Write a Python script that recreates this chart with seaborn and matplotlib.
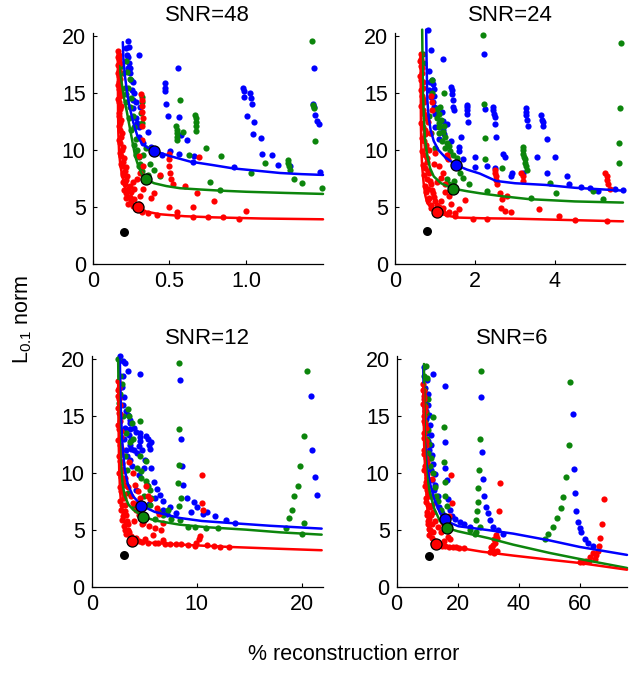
import numpy as np
import matplotlib
matplotlib.use("Agg")
import matplotlib.pyplot as plt
import seaborn as sns

sns.set_style("white")
plt.rcParams['font.family'] = ['Liberation Sans', 'DejaVu Sans']
plt.rcParams['mathtext.fontset'] = 'custom'
plt.rcParams['mathtext.rm'] = 'Liberation Sans'
plt.rcParams['mathtext.it'] = 'Liberation Sans'
plt.rcParams['text.color'] = 'black'
plt.rcParams['xtick.color'] = 'black'
plt.rcParams['ytick.color'] = 'black'
plt.rcParams['axes.labelcolor'] = 'black'

BLUE = '#0000ff'
GREEN = '#0c850c'
RED = '#ff0000'
FS = 15.5

titles = ["SNR=48", "SNR=24", "SNR=12", "SNR=6"]
xlims = [1.5, 5.75, 22, 75.5]
xticks = [[0, 0.5, 1.0], [0, 2, 4], [0, 10, 20], [0, 20, 40, 60]]
xticklabels = [["0", "0.5", "1.0"], ["0", "2", "4"], ["0", "10", "20"], ["0", "20", "40", "60"]]
yticks = [0, 5, 10, 15, 20]

# ---- SNR=48 ----
tl_blue = [(0.233,19.6),(0.239,19.1),(0.233,18.2),(0.239,17.7),(0.243,17.2),(0.243,16.8),(0.248,16.2),(0.254,15.3),
           (0.261,14.4),(0.265,13.7),(0.304,18.4),(0.291,12.4),(0.363,11.6),(0.309,13.8),(0.28,12.8),(0.3,11.2),(0.33,10.6),
           (0.472,15.9),(0.472,15.5),(0.472,15.2),(0.478,14.1),(0.493,13.0),(0.554,17.2),(0.563,12.9),(0.574,11.3),
           (0.617,10.9),(0.563,9.7),(0.657,9.5),(0.504,9.9),(0.45,9.6),(0.978,15.5),(0.983,15.2),(0.987,14.7),(1.026,15.0),
           (1.03,14.6),(1.037,14.1),(1.004,13.0),(1.048,12.5),(1.043,11.4),(1.098,11.1),(1.102,9.7),(1.167,9.6),(1.204,8.7),
           (1.287,8.6),(0.92,8.5),(0.65,9.0),(1.443,17.2),(1.433,14.1),(1.439,13.8),(1.45,13.1),(1.461,12.6),(1.472,12.3),(1.483,8.1),
           (0.22,19.0),(0.225,18.4),(0.23,17.2),(0.26,16.0),(0.27,15.0),(0.28,14.2),(0.3,12.0),(0.38,10.3)]
tl_green = [(0.18,17.3),(0.217,17.8),(0.222,16.9),(0.243,16.3),(0.23,15.5),(0.25,14.6),(0.24,13.8),(0.26,13.0),(0.27,12.0),
            (0.28,11.0),(0.29,10.0),(0.3,9.4),(0.31,8.8),(0.32,8.2),(0.36,7.8),(0.435,7.7),(0.32,14.7),(0.318,14.2),(0.313,13.3),
            (0.32,12.4),(0.35,10.2),(0.3,8.6),(0.57,14.4),(0.543,12.1),(0.548,11.8),(0.55,11.5),(0.552,11.2),(0.55,10.9),
            (0.624,9.6),(0.59,11.6),(0.667,13.1),(0.672,12.8),(0.674,12.5),(0.674,12.1),(0.674,11.7),(0.739,10.2),(0.835,9.5),
            (1.124,8.9),(1.03,8.0),(1.27,9.15),(1.275,8.9),(1.28,8.6),(1.285,8.3),(1.309,7.5),(1.363,7.1),(1.428,19.6),
            (1.437,14.0),(1.439,13.7),(1.45,10.8),(1.493,6.7),(0.761,7.2),(0.83,6.5),
            (0.2,16.8),(0.21,15.5),(0.215,14.9),(0.22,14.2),(0.235,12.8),(0.25,11.8),(0.27,10.5),(0.28,9.6),(0.4,8.3),
            (0.33,9.6),(0.37,8.8)]
tl_red = [(0.165,18.7),(0.168,18.4),(0.17,18.0),(0.165,17.5),(0.17,17.0),(0.168,16.5),(0.172,16.0),(0.17,15.4),(0.175,14.8),
          (0.17,14.2),(0.178,13.6),(0.172,13.0),(0.18,12.4),(0.175,11.8),(0.182,11.2),(0.178,10.6),(0.19,10.0),(0.185,9.5),
          (0.2,9.0),(0.19,8.6),(0.21,8.2),(0.2,7.8),(0.22,7.4),(0.21,7.0),(0.23,6.6),(0.215,6.2),(0.24,5.9),(0.25,5.5),
          (0.23,5.3),(0.26,5.1),(0.28,4.8),(0.32,4.6),(0.36,4.45),(0.42,4.35),(0.55,4.2),(0.65,4.15),(0.75,4.1),(0.95,4.0),
          (0.315,14.9),(0.32,14.4),(0.32,13.9),(0.322,13.4),(0.325,12.8),(0.324,12.1),(0.318,10.9),(0.3,9.5),(0.33,8.6),
          (0.31,8.0),(0.35,7.3),(0.33,6.6),(0.4,6.2),(0.38,5.8),(0.5,9.7),(0.5,9.2),(0.5,8.6),(0.505,8.0),(0.51,7.5),
          (0.52,7.0),(0.6,6.9),(0.68,6.2),(0.69,9.4),(0.79,5.5),(0.5,5.0),(0.65,5.0),(1.0,4.7),(0.44,7.8),
          (0.162,18.2),(0.175,17.7),(0.163,16.8),(0.176,16.3),(0.165,15.7),(0.18,15.1),(0.166,14.5),(0.182,13.9),
          (0.168,13.3),(0.185,12.7),(0.17,12.1),(0.19,11.5),(0.172,10.9),(0.195,10.3),(0.18,9.8),(0.205,9.3),(0.185,8.8),
          (0.215,8.5),(0.195,8.0),(0.225,7.7),(0.2,7.2),(0.24,6.9),(0.205,6.5),(0.25,6.3),(0.22,5.8),(0.27,5.7),(0.3,5.3),
          (0.31,6.0),(0.27,6.6),(0.26,7.2),(0.29,7.5),(0.55,4.6),(0.85,4.1)]
tl_blue_curve = [(0.196,19.5),(0.2,18.0),(0.21,16.5),(0.225,15.0),(0.24,13.8),(0.265,12.4),(0.29,11.3),(0.32,10.6),
                 (0.36,10.2),(0.396,9.97),(0.5,9.5),(0.635,9.0),(0.78,8.7),(0.917,8.4),(1.07,8.2),(1.22,8.0),(1.36,7.9),(1.5,7.83)]
tl_green_curve = [(0.174,17.4),(0.19,15.8),(0.205,14.5),(0.222,13.4),(0.24,12.1),(0.258,10.8),(0.276,9.5),(0.3,8.5),
                  (0.32,7.9),(0.346,7.45),(0.4,7.1),(0.48,6.85),(0.57,6.66),(0.7,6.55),(0.83,6.45),(1.0,6.35),(1.25,6.25),(1.5,6.16)]
tl_red_curve = [(0.163,18.7),(0.164,16.0),(0.165,13.5),(0.167,11.5),(0.172,9.8),(0.18,8.7),(0.19,7.9),(0.205,7.0),
                (0.222,6.2),(0.243,5.6),(0.265,5.25),(0.293,5.0),(0.35,4.6),(0.44,4.37),(0.6,4.2),(0.79,4.1),(1.1,4.0),(1.5,3.93)]
tl_best = [(0.396,9.97),(0.346,7.45),(0.293,5.0)]
tl_true = (0.207,2.79)

# ---- SNR=24 ----
tr_blue = [(0.83,20.6),(0.91,18.8),(1.2,18.0),(0.93,16.2),(0.94,15.8),(0.97,15.4),(0.97,14.8),(0.97,13.8),(1.01,13.2),
           (1.18,13.4),(1.22,11.4),(1.4,15.6),(1.42,15.3),(1.42,14.9),(1.45,14.4),(1.46,13.8),(1.48,13.5),(1.59,10.3),
           (1.6,9.9),(1.81,14.0),(1.81,13.8),(1.81,13.5),(1.81,13.2),(1.82,12.5),(2.01,9.4),(2.22,18.5),(2.25,13.6),
           (2.45,13.8),(2.45,13.5),(2.47,13.2),(2.49,12.9),(2.49,12.3),(2.53,11.2),(2.7,9.7),(2.74,9.4),(2.93,8.0),
           (3.28,13.7),(3.28,13.4),(3.28,13.1),(3.3,12.7),(3.32,12.1),(3.56,9.4),(3.65,13.1),(3.68,12.7),(3.69,12.5),
           (3.71,12.1),(3.81,11.0),(3.81,8.0),(4.0,9.4),(4.31,7.7),(4.35,7.0),(4.66,6.8),(4.88,6.7),(5.08,6.4),(5.5,6.6),
           (5.7,6.5),(1.1,11.0),(1.0,12.0),(2.3,8.6),(3.2,8.0),(1.6,8.6),(0.85,17.0),(0.88,16.0),
           (0.86,15.3),(0.9,14.7),(0.95,14.2),(1.02,13.7),(1.2,12.6),(1.3,12.3),(1.2,11.8),(1.4,10.8),(1.65,11.2),
           (1.3,9.4),(1.7,9.2),(2.0,8.5),(2.5,8.4),(2.9,7.7)]
tr_green = [(0.72,17.7),(0.7,18.5),(0.93,16.2),(0.93,15.0),(1.22,15.0),(1.05,13.6),(1.1,13.2),(1.06,12.8),(1.09,12.4),
            (1.1,12.0),(1.09,11.5),(1.22,12.1),(1.18,10.8),(1.26,10.2),(1.38,9.9),(1.55,9.3),(1.63,8.0),(1.84,7.0),
            (2.21,20.1),(2.22,14.1),(2.25,11.1),(2.25,9.2),(2.68,8.4),(3.19,10.3),(3.2,10.0),(3.21,9.7),(3.22,9.4),
            (3.24,9.2),(3.25,8.9),(3.27,8.6),(3.29,8.3),(3.4,5.8),(3.87,7.1),(4.02,6.2),(4.96,6.4),(5.19,5.7),(5.6,8.9),
            (5.6,10.6),(5.62,13.7),(5.66,19.4),(0.85,13.0),(0.9,11.5),(1.0,10.2),(1.3,7.5),(2.3,6.4),
            (1.12,13.8),(1.15,12.7),(1.2,11.6),(1.25,11.2),(1.3,10.6),(1.35,10.4),(1.45,9.6),(1.6,8.5),(1.7,7.6),
            (1.35,7.0),(1.48,7.3)]
tr_red = [(0.64,18.5),(0.66,18.0),(0.65,17.4),(0.68,16.8),(0.66,16.2),(0.7,15.5),(0.68,14.8),(0.72,14.2),(0.7,13.5),
          (0.74,12.8),(0.7,12.0),(0.76,11.4),(0.72,10.8),(0.78,10.2),(0.74,9.6),(0.8,9.0),(0.76,8.4),(0.85,8.0),(0.8,7.5),
          (0.9,7.0),(0.82,6.6),(0.95,6.2),(0.86,5.8),(1.0,5.5),(0.9,5.2),(1.1,5.0),(1.2,4.6),(1.3,4.4),(1.5,4.2),
          (0.9,14.8),(0.92,14.2),(0.93,13.5),(1.0,9.8),(1.1,8.6),(1.15,7.6),(1.25,7.0),(1.3,9.6),(1.33,9.2),(1.35,6.0),
          (1.4,5.3),(1.05,4.6),(2.49,8.3),(2.5,8.0),(2.52,7.7),(2.52,7.4),(2.56,7.0),(2.62,6.2),(2.68,5.7),(2.66,4.9),
          (2.75,4.7),(3.15,8.0),(3.19,7.7),(3.21,7.3),(1.61,4.8),(1.75,5.6),(2.91,4.6),(3.6,4.8),(4.1,4.2),(4.51,3.9),
          (5.29,3.8),(2.29,4.0),(1.95,4.0),(5.25,8.0),(5.29,7.7),(5.31,7.4),(5.33,7.0),(5.38,6.6),(2.8,6.0),
          (0.63,17.8),(0.67,17.2),(0.63,16.5),(0.69,16.0),(0.64,15.3),(0.71,14.5),(0.65,13.9),(0.73,13.2),(0.66,12.4),
          (0.75,11.8),(0.67,11.1),(0.77,10.5),(0.68,9.9),(0.79,9.3),(0.7,8.7),(0.82,8.2),(0.72,7.8),(0.88,7.3),
          (0.75,6.9),(0.92,6.5),(0.78,6.3),(0.98,5.9),(0.82,5.6),(1.05,5.2),(0.9,4.9),(1.2,4.9),(1.35,4.6),(1.5,4.5),
          (1.15,5.5),(1.25,6.3),(1.05,7.2),(1.2,8.0),(0.98,8.8),(0.85,10.0),(0.88,11.5),(0.82,12.5)]
tr_blue_curve = [(0.78,20.6),(0.79,18.0),(0.8,16.0),(0.81,14.4),(0.84,13.0),(0.89,11.8),(0.97,10.8),(1.09,10.0),
                 (1.25,9.4),(1.53,8.7),(1.8,8.3),(2.12,7.95),(2.53,7.3),(3.0,7.1),(3.77,6.95),(4.5,6.7),(5.7,6.45)]
tr_green_curve = [(0.68,20.6),(0.69,17.5),(0.7,15.0),(0.72,13.0),(0.75,11.0),(0.81,9.44),(0.88,8.4),(0.97,7.7),
                  (1.15,7.1),(1.45,6.63),(1.8,6.4),(2.12,6.22),(2.7,5.95),(3.36,5.7),(4.5,5.5),(5.7,5.4)]
tr_red_curve = [(0.64,18.5),(0.645,15.0),(0.65,12.0),(0.66,10.0),(0.68,8.56),(0.72,7.0),(0.76,6.0),(0.81,5.34),
                (0.92,4.9),(1.05,4.57),(1.3,4.25),(1.59,4.08),(2.2,4.02),(2.95,3.99),(4.3,3.87),(5.7,3.75)]
tr_best = [(1.53,8.7),(1.45,6.63),(1.05,4.57)]
tr_true = (0.81,2.93)

# ---- SNR=12 ----
bl_blue = [(2.68,20.3),(2.99,19.9),(3.15,19.7),(3.47,19.0),(4.57,18.7),(8.42,18.2),(3.63,14.7),(3.3,15.5),(3.47,15.1),
           (3.63,14.4),(3.63,13.9),(3.56,13.4),(3.78,12.9),(3.63,12.5),(3.78,12.1),(3.63,11.2),(3.88,10.6),(4.57,13.5),
           (4.57,13.2),(4.64,12.8),(4.51,12.4),(5.2,13.3),(5.36,13.0),(5.46,12.5),(5.52,12.1),(5.68,12.7),(5.05,11.2),
           (5.68,10.5),(5.9,9.2),(6.47,8.1),(6.78,7.6),(8.52,13.0),(8.58,10.6),(8.74,9.0),(9.09,7.8),(9.78,7.5),(10.0,7.0),
           (10.6,6.4),(11.7,6.2),(12.8,5.9),(13.6,5.6),(20.9,16.8),(21.0,12.0),(21.3,9.7),(21.5,8.1),(8.04,6.5),(3.3,9.0),
           (4.2,8.5),(7.2,6.4),(5.5,7.3),(6.8,6.8),
           (3.0,18.5),(2.9,17.6),(3.1,16.7),(3.0,16.0),(3.2,14.0),(3.1,13.0),(3.3,12.0),(3.4,11.5),(4.0,14.0),(4.2,13.6),
           (4.0,12.0),(4.3,11.8),(4.8,12.0),(5.0,10.5),(4.5,9.8),(5.3,9.0),(6.2,8.6),(7.5,7.0),(6.0,7.8),(9.5,6.6),(11.0,6.6)]
bl_green = [(2.52,20.0),(2.68,18.5),(2.9,17.8),(3.47,15.6),(3.56,15.0),(3.63,12.7),(3.3,13.5),(3.2,11.5),(3.4,10.3),
            (3.3,9.0),(3.5,8.3),(4.57,14.6),(4.57,11.5),(4.73,9.6),(5.14,11.1),(5.2,9.3),(5.36,8.9),(5.52,8.5),(5.68,7.8),
            (6.31,6.7),(8.3,19.7),(8.3,13.9),(8.36,10.7),(8.2,9.1),(8.52,7.8),(8.36,7.1),(7.26,6.8),(9.15,5.3),(10.9,5.2),
            (18.8,6.1),(19.1,6.8),(19.3,8.0),(19.6,8.9),(19.8,10.6),(20.2,13.3),(20.5,19.0),(20.2,5.6),(20.0,4.7),
            (18.5,5.2),(4.0,7.0),(6.0,6.0),(2.6,16.2),
            (2.7,17.0),(3.0,15.0),(3.8,14.4),(3.9,13.0),(4.3,10.5),(4.7,10.2),(5.0,8.0),(5.6,7.2),(6.8,6.3),(7.6,6.0),
            (8.4,5.9),(9.8,5.3),(12.0,5.2)]
bl_red = [(2.52,18.1),(2.6,17.5),(2.55,16.8),(2.65,16.0),(2.58,15.3),(2.7,14.6),(2.62,13.9),(2.75,13.2),(2.65,12.5),
          (2.8,11.8),(2.68,11.1),(2.85,10.4),(2.75,9.7),(2.95,9.0),(2.8,8.4),(3.1,7.8),(2.9,7.2),(3.2,6.7),(3.0,6.2),
          (3.35,5.8),(3.1,5.4),(3.5,5.0),(3.3,4.7),(3.7,4.5),(4.2,4.3),(3.0,10.2),(3.2,9.6),(3.5,8.8),(3.7,8.0),(3.9,7.4),
          (4.2,6.8),(4.5,6.3),(4.0,5.8),(4.8,5.5),(4.4,8.4),(4.6,7.8),(5.2,8.9),(5.36,8.0),(5.6,7.7),(6.2,6.9),(6.4,6.4),
          (6.78,5.6),(6.6,5.0),(6.8,4.1),(5.4,3.9),(6.3,3.9),(4.9,5.6),(10.3,4.5),(10.2,4.2),(9.94,3.9),(9.8,3.6),
          (10.5,9.8),(10.5,7.4),(10.6,6.8),(11.6,3.6),(13.1,3.5),(7.5,3.8),(8.5,3.8),(5.8,4.6),(4.5,4.0),
          (2.48,17.3),(2.62,16.5),(2.5,15.7),(2.7,15.2),(2.52,14.2),(2.78,13.7),(2.55,12.9),(2.82,12.2),(2.58,11.5),
          (2.9,10.9),(2.6,10.0),(2.95,9.4),(2.65,8.8),(3.05,8.2),(2.7,7.6),(3.15,7.2),(2.8,6.8),(3.3,6.3),(2.9,5.9),
          (3.45,5.5),(3.2,5.0),(3.6,4.8),(4.0,4.0),(4.8,3.95),(5.1,4.2),(6.0,3.85),(7.0,3.75),(8.0,3.8),(9.2,3.7),
          (11.0,3.7),(12.2,3.5),(4.3,7.3),(4.7,6.6),(5.0,6.0),(5.5,5.4),(6.0,5.2),(4.1,9.0),(3.9,10.0),(3.6,11.0)]
bl_blue_curve = [(2.68,20.3),(2.72,17.5),(2.78,15.5),(2.84,14.1),(2.95,12.2),(3.15,10.3),(3.45,9.0),(3.94,7.98),
                 (4.73,7.16),(6.0,6.6),(8.36,6.07),(10.5,5.8),(13.1,5.63),(17.0,5.38),(21.9,5.13)]
bl_green_curve = [(2.52,20.0),(2.56,17.0),(2.6,15.0),(2.68,12.7),(2.8,10.5),(2.95,9.0),(3.15,7.98),(3.5,7.25),
                  (3.94,6.8),(4.89,6.19),(6.0,5.85),(8.36,5.48),(11.0,5.25),(14.7,5.04),(18.0,4.8),(21.9,4.6)]
bl_red_curve = [(2.52,18.1),(2.55,15.0),(2.58,12.5),(2.62,10.3),(2.7,8.5),(2.82,7.1),(3.0,6.22),(3.2,5.3),(3.47,4.46),
                (3.85,4.08),(4.6,3.95),(5.84,3.87),(9.0,3.7),(13.1,3.52),(17.5,3.37),(21.9,3.23)]
bl_best = [(4.73,7.16),(4.89,6.19),(3.85,4.08)]
bl_true = (3.09,2.84)

# ---- SNR=6 ----
br_blue = [(9.0,19.3),(12.0,18.7),(15.8,17.7),(9.8,18.2),(10.2,17.0),(10.4,16.0),(10.6,15.1),(11.0,14.2),(11.2,13.4),
           (11.4,12.5),(11.7,11.6),(12.0,10.8),(12.4,9.9),(12.7,9.0),(15.8,12.7),(16.0,10.5),(16.6,9.4),(16.9,7.7),
           (17.4,6.8),(19.0,6.0),(20.6,5.7),(27.8,16.7),(28.0,11.9),(28.4,9.5),(28.7,8.0),(29.2,7.0),(29.8,6.5),(30.5,5.9),
           (31.6,5.3),(33.3,5.0),(34.9,4.7),(57.8,15.2),(58.0,10.4),(58.3,8.3),(58.9,6.7),(59.5,5.7),(60.0,5.2),(60.5,4.8),
           (61.6,4.2),(62.7,3.9),(64.3,3.6),(10.0,13.5),(10.5,12.0),(13.5,8.0),(14.0,7.0),(9.5,15.5),
           (9.3,17.5),(9.2,16.3),(9.6,14.8),(9.8,14.0),(10.2,12.8),(10.8,11.3),(11.3,10.3),(11.5,9.4),(12.2,8.5),
           (13.0,7.5),(15.0,6.5),(18.0,6.2),(22.0,5.5),(24.0,5.3)]
br_green = [(9.49,19.4),(9.8,18.4),(10.4,16.5),(12.0,14.9),(15.5,14.1),(15.5,11.0),(15.8,9.2),(16.0,8.0),(16.4,7.1),
            (10.2,13.8),(10.6,12.6),(11.2,11.3),(11.8,10.0),(12.6,8.8),(13.5,7.6),(27.5,19.0),(27.3,13.0),(26.9,10.3),
            (26.7,8.7),(26.5,7.5),(26.4,6.7),(25.9,5.9),(25.6,4.7),(27.3,5.3),(48.7,4.2),(49.6,4.7),(51.3,5.3),(52.6,6.1),
            (53.8,6.9),(54.5,7.9),(55.6,9.7),(56.4,12.5),(56.9,18.0),(9.2,16.0),(9.3,14.5),
            (9.0,18.5),(9.1,17.3),(9.6,15.3),(10.0,13.0),(10.4,11.8),(11.0,10.6),(13.0,8.0),(14.5,6.8),(16.0,6.2),
            (24.0,5.0),(26.0,4.8)]
br_red = [(8.7,17.8),(9.0,17.2),(8.8,16.5),(9.2,15.8),(8.9,15.0),(9.3,14.3),(9.0,13.5),(9.5,12.8),(9.1,12.0),(9.6,11.3),
          (9.3,10.6),(9.8,9.9),(9.5,9.2),(10.0,8.5),(9.7,7.8),(10.3,7.2),(10.0,6.6),(10.6,6.0),(10.3,5.5),(11.0,5.0),
          (10.6,4.6),(11.5,4.3),(12.5,4.0),(11.0,8.0),(11.5,7.2),(12.0,6.6),(12.5,5.8),(13.5,5.3),(14.5,4.8),(15.3,5.6),
          (16.9,4.9),(17.4,4.2),(17.7,9.8),(18.0,7.4),(17.0,6.2),(14.0,3.8),(16.0,3.6),(19.5,3.5),(22.0,3.4),(11.5,9.5),
          (31.1,3.3),(31.6,3.7),(31.8,4.2),(32.7,4.6),(33.5,6.7),(33.8,9.1),(30.5,3.1),(33.0,3.2),(62.2,2.3),(63.5,2.6),
          (65.4,2.8),(66.3,3.6),(66.8,4.3),(67.4,5.5),(67.8,7.7),(60.0,2.2),(64.5,3.0),
          (8.6,17.3),(9.1,16.8),(8.7,16.1),(9.3,15.5),(8.8,14.6),(9.5,14.0),(8.9,13.1),(9.7,12.5),(9.0,11.7),(9.9,11.0),
          (9.1,10.3),(10.1,9.6),(9.3,8.9),(10.4,8.2),(9.5,7.5),(10.8,7.0),(9.8,6.3),(11.2,6.3),(10.2,5.8),(11.5,5.5),
          (10.5,5.1),(12.0,4.8),(11.8,3.9),(13.2,3.7),(15.0,3.6),(17.0,3.55),(18.5,3.5),(20.5,3.45),(16.5,5.5),
          (17.0,5.2),(16.7,4.4),(15.5,4.0),(32.0,3.0),(31.0,3.5),(32.3,3.9),(33.0,4.3),(66.0,3.2),(65.0,2.5),
          (63.0,2.3),(61.0,2.2)]
br_blue_curve = [(8.72,19.3),(8.85,16.5),(9.0,14.5),(9.27,12.7),(9.8,10.8),(10.9,9.15),(12.2,7.8),(14.2,6.51),
                 (15.8,5.98),(17.5,5.65),(20.2,5.34),(30.0,5.0),(38.2,4.69),(50.0,4.1),(60.0,3.52),(75.5,2.82)]
br_green_curve = [(8.94,19.6),(9.05,16.5),(9.15,14.0),(9.27,12.1),(9.8,10.0),(10.9,8.27),(12.3,6.9),(14.2,5.78),
                  (16.4,5.19),(20.0,4.9),(30.0,4.3),(38.2,3.72),(50.0,3.0),(60.0,2.46),(75.5,1.67)]
br_red_curve = [(8.72,17.8),(8.85,15.0),(9.0,12.5),(9.27,10.6),(9.7,8.5),(10.4,5.34),(11.3,4.3),(12.8,3.78),
                (18.5,3.52),(28.0,3.1),(38.2,2.76),(50.0,2.4),(60.0,2.11),(75.5,1.52)]
br_best = [(15.8,5.98),(16.4,5.19),(12.8,3.78)]
br_true = (10.7,2.76)

panels = [
    (tl_blue, tl_green, tl_red, tl_blue_curve, tl_green_curve, tl_red_curve, tl_best, tl_true),
    (tr_blue, tr_green, tr_red, tr_blue_curve, tr_green_curve, tr_red_curve, tr_best, tr_true),
    (bl_blue, bl_green, bl_red, bl_blue_curve, bl_green_curve, bl_red_curve, bl_best, bl_true),
    (br_blue, br_green, br_red, br_blue_curve, br_green_curve, br_red_curve, br_best, br_true),
]

# axes boxes in figure fractions (left, bottom, width, height)
boxes = [
    (0.146, 0.6077, 0.3627, 0.3432),
    (0.622, 0.6077, 0.3622, 0.3432),
    (0.1444, 0.1278, 0.3638, 0.3432),
    (0.6247, 0.1278, 0.3627, 0.3432),
]


def draw_panel(ax, data, title, xmax, xt, xtl):
    blue, green, red, bc, gc, rc, best, true = data
    colors = [BLUE, GREEN, RED]
    for pts, c in zip([blue, green, red], colors):
        a = np.array(pts)
        sns.scatterplot(x=a[:, 0], y=a[:, 1], ax=ax, color=c, s=20, linewidth=0, clip_on=False, zorder=2)
    for pts, c in zip([bc, gc, rc], colors):
        a = np.array(pts)
        sns.lineplot(x=a[:, 0], y=a[:, 1], ax=ax, color=c, lw=1.8, sort=False, estimator=None,
                     clip_on=False, zorder=3)
    for (bx, by), c in zip(best, colors):
        ax.scatter([bx], [by], s=64, color=c, edgecolor='black', linewidth=0.9, zorder=4, clip_on=False)
    ax.scatter([true[0]], [true[1]], s=42, color='black', linewidth=0, zorder=4, clip_on=False)

    ax.set_xlim(0, xmax)
    ax.set_ylim(0, 20.3)
    ax.set_xticks(xt)
    ax.set_xticklabels(xtl)
    ax.set_yticks(yticks)
    ax.set_yticklabels([str(v) for v in yticks])
    ax.tick_params(direction='in', length=3, width=0.8, labelsize=FS, pad=5,
                   bottom=True, left=True, colors='black')
    for side in ['top', 'right']:
        ax.spines[side].set_visible(False)
    for side in ['left', 'bottom']:
        ax.spines[side].set_color('black')
        ax.spines[side].set_linewidth(0.9)
    ax.set_title(title, fontsize=16, pad=9, color='black')
    ax.set_xlabel("")
    ax.set_ylabel("")


fig = plt.figure(figsize=(6.35, 6.73), dpi=100)
for i in range(4):
    ax = fig.add_axes(boxes[i])
    draw_panel(ax, panels[i], titles[i], xlims[i], xticks[i], xticklabels[i])

fig.text(0.557, 0.027, "% reconstruction error", ha='center', va='center', fontsize=FS, color='black')
fig.text(0.035, 0.525, r"$\mathregular{L_{0.1}}$ norm", ha='center', va='center', rotation=90,
         fontsize=FS, color='black')

fig.savefig("out.png", dpi=100)
